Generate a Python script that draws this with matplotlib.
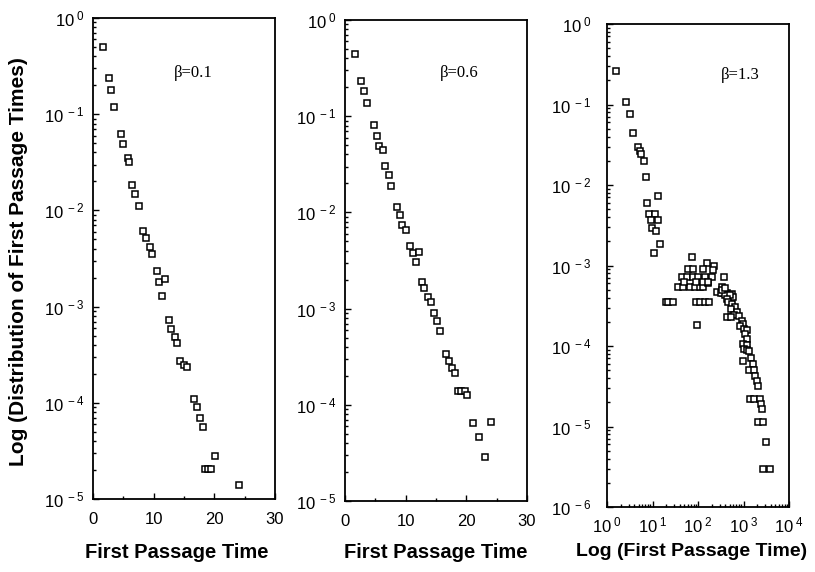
import math
import matplotlib
matplotlib.use("Agg")
import matplotlib.pyplot as plt
from matplotlib.ticker import LogLocator, FixedLocator, NullFormatter, FuncFormatter

plt.rcParams['font.family'] = ['Liberation Sans', 'DejaVu Sans']
plt.rcParams['mathtext.fontset'] = 'custom'
plt.rcParams['mathtext.rm'] = 'Liberation Sans'
plt.rcParams['mathtext.it'] = 'Liberation Sans:italic'
plt.rcParams['mathtext.bf'] = 'Liberation Sans:bold'

# ---- data ----
x1 = [1.6, 2.65, 3.0, 3.5, 4.6, 5.0, 5.7, 6.0, 6.5, 6.9, 7.5, 8.3, 8.8, 9.45, 9.8,
      10.5, 10.9, 11.9, 11.4, 12.5, 12.9, 13.5, 13.9, 14.4, 15.0, 15.5, 16.6, 17.1,
      17.6, 18.2, 20.1, 18.5, 19.0, 19.5, 24.0]
y1 = [0.50, 0.24, 0.18, 0.12, 0.063, 0.049, 0.035, 0.0316, 0.0182, 0.0147, 0.0111,
      0.0061, 0.0052, 0.0042, 0.0035, 0.00236, 0.00182, 0.00192, 0.0013, 0.00072,
      0.00059, 0.00048, 0.00042, 0.000272, 0.000247, 0.000234, 0.00011, 9.0e-5,
      7.0e-5, 5.6e-5, 2.8e-5, 2.07e-5, 2.07e-5, 2.07e-5, 1.4e-5]

x2 = [1.65, 2.6, 3.1, 3.7, 4.7, 5.3, 5.65, 6.2, 6.6, 7.2, 7.5, 8.5, 9.1, 9.4, 10.1,
      10.7, 11.2, 12.2, 11.7, 12.7, 13.1, 13.7, 14.1, 14.7, 15.2, 15.7, 16.6, 17.2,
      17.6, 18.1, 18.7, 19.2, 19.7, 20.1, 21.1, 22.1, 23.1, 24.1]
y2 = [0.44, 0.233, 0.184, 0.136, 0.081, 0.063, 0.049, 0.044, 0.0303, 0.0245, 0.0188,
      0.0115, 0.0093, 0.0074, 0.0065, 0.00446, 0.0038, 0.0039, 0.00306, 0.0019,
      0.00162, 0.00133, 0.00116, 0.00089, 0.00075, 0.00059, 0.000337, 0.000287,
      0.000243, 0.000215, 0.000139, 0.00014, 0.00014, 0.000127, 6.4e-5, 4.6e-5,
      2.9e-5, 6.6e-5]

x3 = [1.58, 2.58, 3.2, 3.78, 4.73, 5.3, 5.59, 6.6, 7.1, 13.0, 7.46, 8.5, 11.3, 9.27,
      13.0, 9.75, 11.9, 14.6, 11.0,
      75, 61, 79, 155, 131, 225, 210,
      43.8, 56.5, 79, 102, 143, 200, 373,
      37, 47.5, 66.7, 86, 111, 131, 168, 258, 332, 349, 427, 550, 597,
      19.8, 21.9, 28.6, 90, 111, 143, 172, 96.5,
      49, 90, 131, 168,
      315, 392, 343, 392, 505, 427, 463, 550, 650, 523, 708, 628, 427, 523, 809,
      912, 991, 838, 1025, 1175, 1080, 1175, 960, 1175, 1025, 1213, 1342, 960,
      1440, 1592, 1342, 1700, 1790, 1950, 2120, 1390, 1700, 2300, 2390, 2510,
      2120, 2640, 3125, 2730, 3820]
y3 = [0.26, 0.107, 0.076, 0.0445, 0.0298, 0.0266, 0.0242, 0.0196, 0.0124, 0.0074,
      0.00606, 0.00442, 0.00442, 0.00372, 0.00365, 0.00293, 0.00266, 0.00184, 0.00145,
      0.00128, 0.00090, 0.00090, 0.00107, 0.00090, 0.00099, 0.00087,
      0.00072, 0.00072, 0.00072, 0.00072, 0.00072, 0.00072, 0.00071,
      0.00054, 0.00054, 0.00054, 0.00054, 0.00054, 0.00054, 0.00061, 0.000464,
      0.00054, 0.000455, 0.00045, 0.00044, 0.000406,
      0.000348, 0.000348, 0.000348, 0.000348, 0.000348, 0.000348, 0.000348, 0.00018,
      0.00062, 0.00062, 0.00062, 0.00062,
      0.00045, 0.000426, 0.00049, 0.00053, 0.000426, 0.000387, 0.000352, 0.000329,
      0.000305, 0.00029, 0.000264, 0.00024, 0.000229, 0.000229, 0.000235,
      0.000204, 0.000189, 0.000175, 0.000164, 0.000156, 0.000142, 0.000123,
      0.000107, 0.000102, 9.2e-5, 8.8e-5, 8.6e-5, 6.6e-5,
      7.1e-5, 6.0e-5, 5.0e-5, 5.0e-5, 4.3e-5, 3.7e-5, 3.2e-5, 2.17e-5, 2.17e-5,
      2.17e-5, 1.9e-5, 1.66e-5, 1.13e-5, 1.13e-5, 6.5e-6, 3.0e-6, 3.0e-6]

labels = ["\u03b2=0.1", "\u03b2=0.6", "\u03b2=1.3"]
label_pos = [(0.55, 0.885), (0.63, 0.89), (0.73, 0.895)]
xlabels = ["First Passage Time", "First Passage Time", "Log (First Passage Time)"]
ylabel = "Log (Distribution of First Passage Times)"

# ---- figure ----
W, H = 815, 572
fig = plt.figure(figsize=(W / 100, H / 100), dpi=100)

def rect(l, t, r, b):
    return [l / W, 1 - b / H, (r - l) / W, (b - t) / H]

ax1 = fig.add_axes(rect(93, 18, 275, 499))
ax2 = fig.add_axes(rect(345, 20, 527, 501))
ax3 = fig.add_axes(rect(607, 24, 789, 507))

def logfmt(v, pos):
    e = int(round(math.log10(v)))
    return r'$\mathregular{10^{\ %d}}$' % e

mk = dict(marker='s', linestyle='none', markersize=4.3, markerfacecolor='white',
          markeredgecolor='black', markeredgewidth=1.1)

for ax, xs, ys in [(ax1, x1, y1), (ax2, x2, y2), (ax3, x3, y3)]:
    ax.plot(xs, ys, **mk)
    ax.set_yscale('log')
    for s in ax.spines.values():
        s.set_linewidth(1.3)
    ax.yaxis.set_major_locator(LogLocator(base=10, numticks=20))
    ax.yaxis.set_minor_locator(LogLocator(base=10, subs=range(2, 10), numticks=20))
    ax.yaxis.set_major_formatter(FuncFormatter(logfmt))
    ax.yaxis.set_minor_formatter(NullFormatter())
    ax.tick_params(which='both', direction='in', top=False, right=False,
                   labelsize=12, width=1.0)
    ax.tick_params(which='major', length=4)
    ax.tick_params(which='minor', length=2)
    ax.tick_params(axis='x', pad=9)
    ax.tick_params(axis='y', pad=6)

for ax in (ax1, ax2):
    ax.set_xlim(0, 30)
    ax.set_ylim(1e-5, 1)
    ax.xaxis.set_major_locator(FixedLocator([0, 10, 20, 30]))
    ax.xaxis.set_minor_locator(FixedLocator([5, 15, 25]))

ax3.set_xscale('log')
ax3.set_xlim(1, 1e4)
ax3.set_ylim(1e-6, 1)
ax3.xaxis.set_major_locator(LogLocator(base=10, numticks=20))
ax3.xaxis.set_minor_locator(LogLocator(base=10, subs=range(2, 10), numticks=20))
ax3.xaxis.set_major_formatter(FuncFormatter(logfmt))
ax3.xaxis.set_minor_formatter(NullFormatter())
ax3.tick_params(axis='y', pad=11)
ax3.tick_params(axis='x', pad=6)

for ax, lab, pos in zip((ax1, ax2, ax3), labels, label_pos):
    ax.text(pos[0], pos[1], lab, transform=ax.transAxes, ha='center', va='center',
            fontsize=12, family=['Liberation Serif', 'DejaVu Serif'])

xl_pos = [(177, 553, 14.5), (436, 553, 14.5), (692, 552, 14)]
for xl, (px, py, fs) in zip(xlabels, xl_pos):
    fig.text(px / W, 1 - py / H, xl, ha='center', va='center',
             fontsize=fs, fontweight='bold')

fig.text(19 / W, 1 - 262 / H, ylabel, rotation=90, ha='center', va='center',
         fontsize=15, fontweight='bold')

fig.savefig('out.png', dpi=100)
